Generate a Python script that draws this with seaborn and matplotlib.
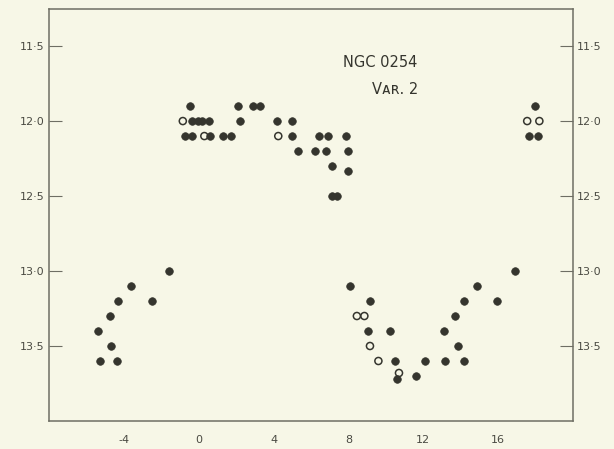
import pandas as pd
import matplotlib
matplotlib.use("Agg")
import matplotlib.pyplot as plt
import seaborn as sns

# filled dots: phase (days), magnitude
phase_filled = [-1.6, -3.6, -4.3, -2.5, -4.75, -5.4, -4.7, -5.3, -4.35,
                -0.45, -0.35, -0.05, 0.2, 0.55, -0.75, -0.35, 0.6, 1.3, 1.75,
                2.1, 2.2, 2.9, 3.3, 4.2, 5.0, 5.0, 6.45, 6.9, 7.85,
                5.3, 6.2, 6.8, 8.0, 7.1, 8.0, 7.1, 7.4,
                8.1, 9.15, 9.05, 10.2, 10.5, 10.6, 11.6, 12.1, 13.15, 14.15,
                13.85, 13.1, 13.7, 14.15, 14.85, 15.95, 16.9,
                17.95, 17.65, 18.15]
mag_filled = [13.0, 13.1, 13.2, 13.2, 13.3, 13.4, 13.5, 13.6, 13.6,
              11.9, 12.0, 12.0, 12.0, 12.0, 12.1, 12.1, 12.1, 12.1, 12.1,
              11.9, 12.0, 11.9, 11.9, 12.0, 12.0, 12.1, 12.1, 12.1, 12.1,
              12.2, 12.2, 12.2, 12.2, 12.3, 12.33, 12.5, 12.5,
              13.1, 13.2, 13.4, 13.4, 13.6, 13.72, 13.7, 13.6, 13.6, 13.6,
              13.5, 13.4, 13.3, 13.2, 13.1, 13.2, 13.0,
              11.9, 12.1, 12.1]

# open circles
phase_open = [-0.85, 0.3, 4.25, 8.45, 8.85, 9.15, 9.6, 10.7, 17.55, 18.2]
mag_open = [12.0, 12.1, 12.1, 13.3, 13.3, 13.5, 13.6, 13.68, 12.0, 12.0]

yticks = [11.5, 12.0, 12.5, 13.0, 13.5]
ytick_labels = ["11·5", "12·0", "12·5", "13·0", "13·5"]
xticks = [-4, 0, 4, 8, 12, 16]
xtick_labels = ["-4", "0", "4", "8", "12", "16"]

paper = "#f7f7e7"
ink = "#35352e"
line = "#6e6e64"

sns.set_style("white", {"axes.facecolor": paper, "figure.facecolor": paper})
plt.rcParams['font.family'] = ['DejaVu Sans']

filled = pd.DataFrame({"phase": phase_filled, "mag": mag_filled})
opened = pd.DataFrame({"phase": phase_open, "mag": mag_open})

fig = plt.figure(figsize=(6.14, 4.49), dpi=100)
ax = fig.add_axes([0.0798, 0.0624, 0.8535, 0.9168])

sns.scatterplot(data=filled, x="phase", y="mag", ax=ax, s=30,
                color=ink, edgecolor=ink, linewidth=0.5)
sns.scatterplot(data=opened, x="phase", y="mag", ax=ax, s=26,
                facecolor="none", edgecolor=ink, linewidth=1.1)

ax.set_xlim(-8, 20)
ax.set_ylim(14.0, 11.255)
ax.set_xlabel("")
ax.set_ylabel("")

ax.set_xticks(xticks)
ax.set_xticklabels(xtick_labels)
ax.set_yticks(yticks)
ax.set_yticklabels(ytick_labels)
ax.tick_params(axis="both", direction="in", length=9.5, width=0.8,
               color=line, labelcolor="#4a4a42", labelsize=8)
ax.tick_params(axis="x", pad=10)
ax.tick_params(axis="y", left=True, right=True, labelleft=True,
               labelright=True, pad=3)
ax.tick_params(axis="x", top=False)

for sp in ax.spines.values():
    sp.set_color(line)
    sp.set_linewidth(1.1)
    sp.set_visible(True)

ax.text(0.632, 0.872, "NGC 0254", transform=ax.transAxes, ha="center",
        va="center", fontsize=10.5, color=ink)
ax.text(0.66, 0.806, "Vᴀʀ. 2", transform=ax.transAxes, ha="center",
        va="center", fontsize=10.5, color=ink)

fig.savefig("out.png", dpi=100, facecolor=paper)
